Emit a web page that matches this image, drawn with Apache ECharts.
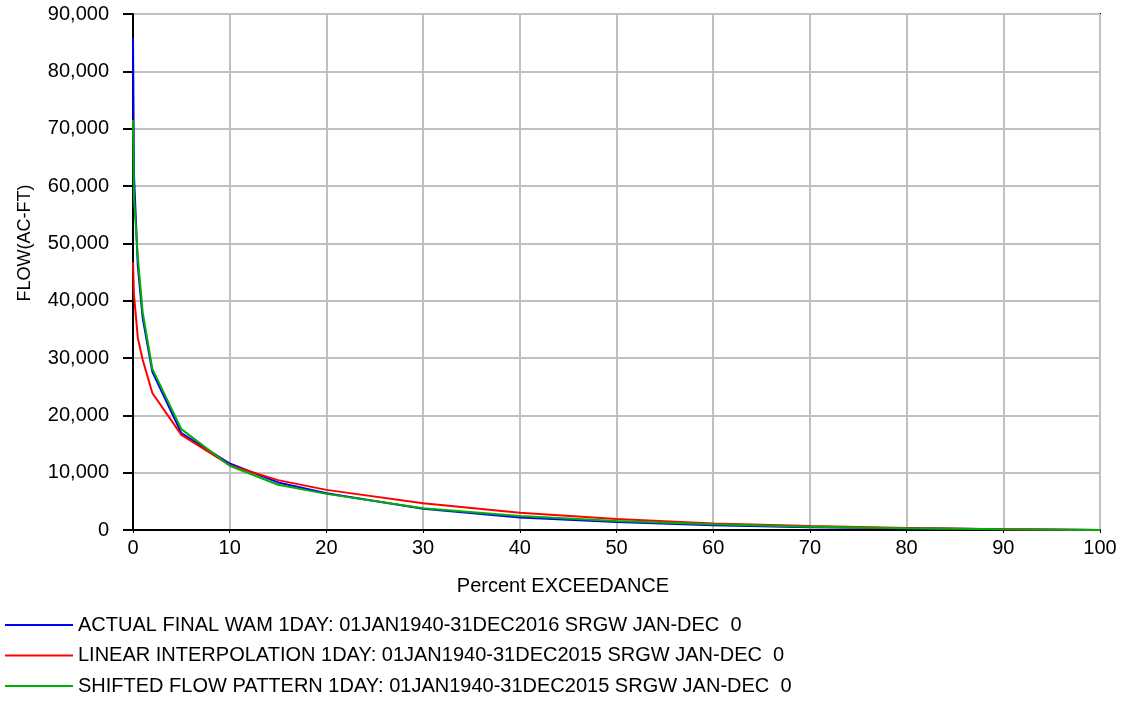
<!DOCTYPE html>
<html>
<head>
<meta charset="utf-8">
<script src="https://cdn.jsdelivr.net/npm/echarts@6/dist/echarts.min.js"></script>
<style>
  html, body { margin: 0; padding: 0; background: #ffffff; }
  #chart { width: 1126px; height: 705px; }
</style>
</head>
<body>
<div id="chart"></div>
<script>
// Flow-duration curves: percent of time a daily flow is exceeded
const exceedancePct = [0, 0.1, 0.5, 1, 2, 5, 10, 15, 20, 30, 40, 50, 60, 70, 80, 90, 100];
const actualFinalWam = [85800, 62000, 46000, 37000, 27600, 16900, 11600, 8300, 6400, 3700, 2200, 1400, 820, 470, 290, 120, 0];
const linearInterp   = [46700, 41000, 33500, 29700, 23900, 16600, 11300, 8700, 7000, 4650, 3000, 1900, 1150, 700, 330, 150, 0];
const shiftedPattern = [71500, 58000, 47500, 38000, 28100, 17600, 11200, 7900, 6300, 3800, 2450, 1570, 990, 580, 300, 130, 0];

const seriesNames = [
  'ACTUAL FINAL WAM 1DAY: 01JAN1940-31DEC2016 SRGW JAN-DEC  0',
  'LINEAR INTERPOLATION 1DAY: 01JAN1940-31DEC2015 SRGW JAN-DEC  0',
  'SHIFTED FLOW PATTERN 1DAY: 01JAN1940-31DEC2015 SRGW JAN-DEC  0'
];
const seriesColors = ['#0000ff', '#ff0000', '#00b000'];
const seriesValues = [actualFinalWam, linearInterp, shiftedPattern];

const FONT = "'Liberation Sans', Arial, sans-serif";

function pairs(values) {
  return exceedancePct.map((x, i) => [x, values[i]]);
}

const chart = echarts.init(document.getElementById('chart'), null, { renderer: 'canvas' });

chart.setOption({
  animation: false,
  backgroundColor: '#ffffff',
  textStyle: { fontFamily: FONT, color: '#000' },
  grid: {
    left: 133, right: 26, top: 14, bottom: 175,
    show: true, borderColor: '#000', borderWidth: 2, backgroundColor: 'transparent'
  },
  xAxis: {
    type: 'value', min: 0, max: 100, interval: 10,
    axisLine: { show: true, lineStyle: { color: '#000', width: 2 } },
    axisTick: { show: true, length: 3, lineStyle: { color: '#000', width: 1 } },
    axisLabel: { color: '#000', fontSize: 20, fontFamily: FONT, margin: 8 },
    splitLine: { show: true, lineStyle: { color: '#c0c0c0', width: 2 } }
  },
  yAxis: {
    type: 'value', min: 0, max: 90000, interval: 10000,
    axisLine: { show: true, lineStyle: { color: '#000', width: 2 } },
    axisTick: { show: true, length: 10, lineStyle: { color: '#000', width: 2 } },
    axisLabel: {
      color: '#000', fontSize: 20, fontFamily: FONT, margin: 24,
      formatter: v => v.toLocaleString('en-US')
    },
    splitLine: { show: true, lineStyle: { color: '#c0c0c0', width: 2 } }
  },
  legend: {
    orient: 'vertical', left: 5, top: 615, height: 90, padding: 0,
    icon: 'rect', itemWidth: 68, itemHeight: 2, itemGap: 10.5,
    textStyle: { fontSize: 20, fontFamily: FONT, color: '#000' },
    data: seriesNames
  },
  graphic: [
    {
      type: 'text', left: 'center', top: 576,
      style: { text: 'Percent EXCEEDANCE', font: '20px ' + FONT, fill: '#000' }
    },
    {
      type: 'text', x: 25, y: 243, rotation: Math.PI / 2,
      style: { text: 'FLOW(AC-FT)', font: '18px ' + FONT, fill: '#000', align: 'center', verticalAlign: 'middle' }
    }
  ],
  series: seriesValues.map((vals, i) => ({
    name: seriesNames[i],
    type: 'line',
    data: pairs(vals),
    symbol: 'none',
    lineStyle: { color: seriesColors[i], width: 2 },
    itemStyle: { color: seriesColors[i] },
    z: 2 + i
  }))
});
</script>
</body>
</html>
